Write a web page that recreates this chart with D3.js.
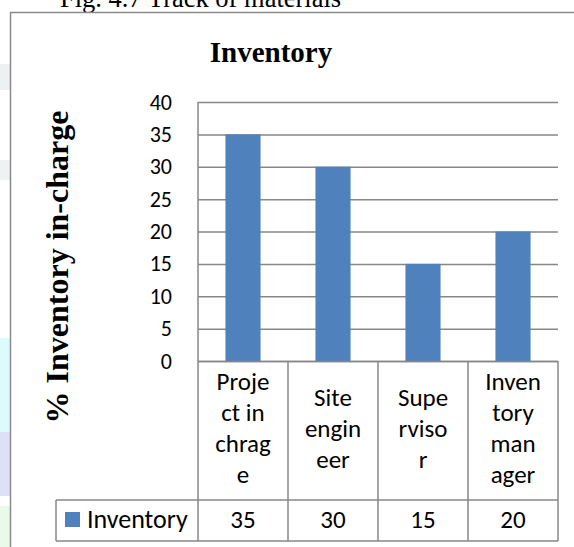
<!DOCTYPE html>
<html>
<head>
<meta charset="utf-8">
<script src="https://cdn.jsdelivr.net/npm/d3@7"></script>
<style>
  html, body { margin: 0; padding: 0; background: #fff; }
  svg { display: block; }
</style>
</head>
<body>
<svg id="chart" width="574" height="547"></svg>
<script>
// Inventory in-charge shares
const categories = ["Project in chrage", "Site engineer", "Supervisor", "Inventory manager"];
const categoryLines = [["Proje", "ct in", "chrag", "e"], ["Site", "engin", "eer"], ["Supe", "rviso", "r"], ["Inven", "tory", "man", "ager"]];
const seriesName = "Inventory";
const values = [35, 30, 15, 20];
const yTicks = [0, 5, 10, 15, 20, 25, 30, 35, 40];

const SANS = "Carlito, Lato, 'Liberation Sans', sans-serif";
const SERIF = "'Liberation Serif', 'Times New Roman', serif";
const BAR = "#4F81BD";
const GRID = "#878787";

const svg = d3.select("#chart");

// faint page decoration along the left margin
const deco = svg.append("g");
[
  { y0: 64, y1: 90, c: "#eef1f2" },
  { y0: 160, y1: 180, c: "#eff2f3" },
  { y0: 338, y1: 470, c: "#dcfcfc" },
  { y0: 432, y1: 496, c: "#dde0f7" },
  { y0: 506, y1: 547, c: "#e9faeb" }
].forEach(d => deco.append("rect").attr("x", 0).attr("y", d.y0).attr("width", 10).attr("height", d.y1 - d.y0).attr("fill", d.c));

// figure caption (partly above the page edge)
svg.append("text").attr("x", 60).attr("y", 7)
  .attr("font-family", SERIF).attr("font-size", 26.5).attr("fill", "#000")
  .text("Fig. 4.7 Track of materials");

// chart frame
svg.append("path").attr("d", "M10.5,547 V12.5 H574")
  .attr("fill", "none").attr("stroke", "#8a8a8a").attr("stroke-width", 1.5);

// plot geometry
const plot = { left: 198, right: 558, top: 102, bottom: 361 };
const tableBottom = 541, rowSplit = 500, legendLeft = 56;

const y = d3.scaleLinear().domain([0, 40]).range([plot.bottom, plot.top]);
const xCell = d3.scaleBand().domain(categories).range([plot.left, plot.right]).padding(0);
const xBar = d3.scaleBand().domain(categories).range([plot.left, plot.right])
  .paddingInner(0.61).paddingOuter(0.305);

// title
svg.append("text").attr("x", 271).attr("y", 62).attr("text-anchor", "middle")
  .attr("font-family", SERIF).attr("font-weight", "bold").attr("font-size", 29)
  .text("Inventory");

// y-axis title
svg.append("text")
  .attr("transform", "translate(68,267) rotate(-90)")
  .attr("text-anchor", "middle")
  .attr("font-family", SERIF).attr("font-weight", "bold").attr("font-size", 32)
  .text("% Inventory in-charge");

// gridlines + tick labels
const yAxis = d3.axisLeft(y).tickValues(yTicks).tickSize(-(plot.right - plot.left)).tickPadding(26);
const ga = svg.append("g").attr("transform", `translate(${plot.left},0)`).call(yAxis);
ga.select(".domain").remove();
ga.selectAll(".tick line").attr("stroke", GRID).attr("stroke-width", 1.5);
ga.selectAll(".tick text").attr("font-family", SANS).attr("font-size", 22).attr("fill", "#000");

// bars
svg.append("g").selectAll("rect").data(values).join("rect")
  .attr("x", (d, i) => xBar(categories[i]))
  .attr("y", d => y(d))
  .attr("width", xBar.bandwidth())
  .attr("height", d => y(0) - y(d))
  .attr("fill", BAR);

// data table lines
const lines = svg.append("g").attr("stroke", GRID).attr("stroke-width", 1.5).attr("fill", "none");
lines.append("line").attr("x1", plot.left).attr("x2", plot.left).attr("y1", plot.top).attr("y2", tableBottom);
lines.append("line").attr("x1", plot.left).attr("x2", plot.right).attr("y1", plot.bottom + 0.5).attr("y2", plot.bottom + 0.5);
lines.append("line").attr("x1", legendLeft).attr("x2", plot.right).attr("y1", rowSplit).attr("y2", rowSplit);
lines.append("line").attr("x1", legendLeft).attr("x2", plot.right).attr("y1", tableBottom).attr("y2", tableBottom);
lines.append("line").attr("x1", legendLeft).attr("x2", legendLeft).attr("y1", rowSplit).attr("y2", tableBottom);
categories.forEach((c, i) => {
  const xr = xCell(c) + xCell.bandwidth();
  lines.append("line").attr("x1", xr).attr("x2", xr).attr("y1", plot.bottom).attr("y2", tableBottom);
});

// category labels (wrapped)
const lineH = 31, midBase = 436.5;
const cat = svg.append("g").attr("font-family", SANS).attr("font-size", 25).attr("text-anchor", "middle");
categories.forEach((c, i) => {
  const ls = categoryLines[i];
  const t = cat.append("text").attr("x", xCell(c) + xCell.bandwidth() / 2);
  ls.forEach((s, j) => {
    t.append("tspan").attr("x", xCell(c) + xCell.bandwidth() / 2)
      .attr("y", midBase + (j - (ls.length - 1) / 2) * lineH).text(s);
  });
});

// values row
svg.append("g").selectAll("text").data(values).join("text")
  .attr("x", (d, i) => xCell(categories[i]) + xCell.bandwidth() / 2)
  .attr("y", 528).attr("text-anchor", "middle")
  .attr("font-family", SANS).attr("font-size", 25)
  .text(d => d);

// legend key
svg.append("rect").attr("x", 65).attr("y", 512).attr("width", 15).attr("height", 15).attr("fill", BAR);
svg.append("text").attr("x", 87).attr("y", 528)
  .attr("font-family", SANS).attr("font-size", 26).text(seriesName);
</script>
</body>
</html>
